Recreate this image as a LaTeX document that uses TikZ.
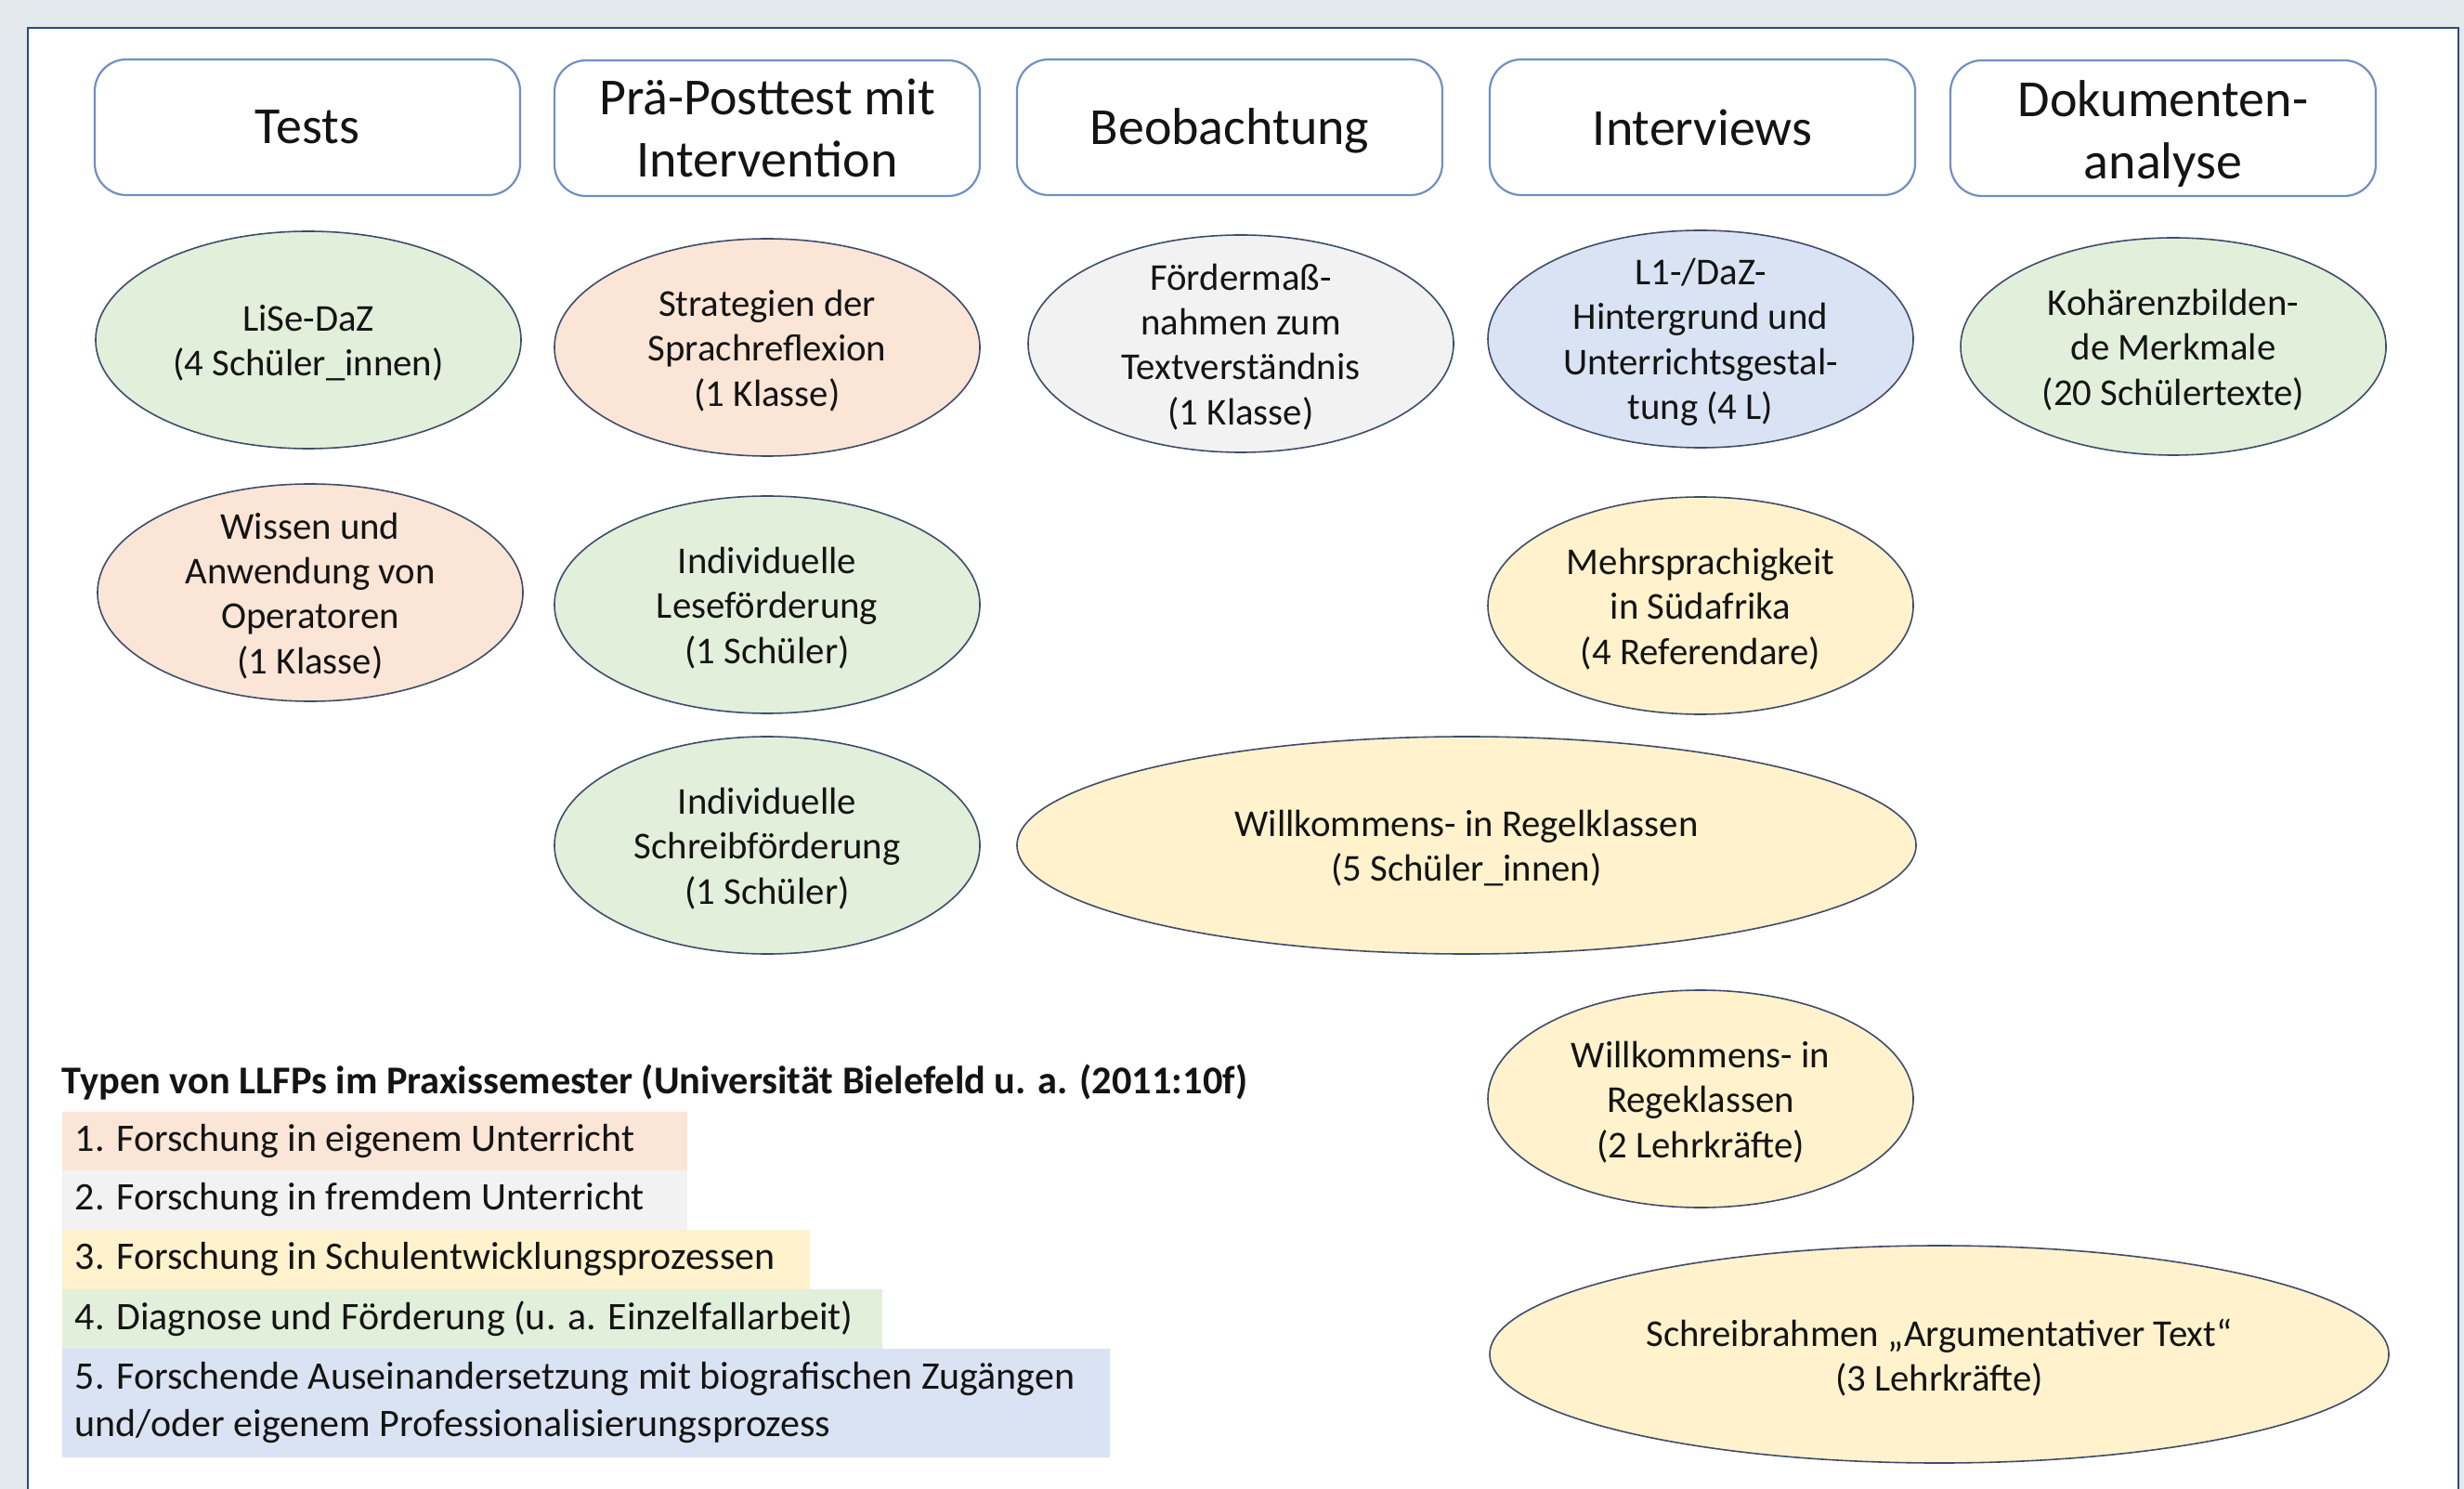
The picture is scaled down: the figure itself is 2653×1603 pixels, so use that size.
\documentclass[tikz,border=0pt]{standalone}
\usepackage{fontspec}
\setmainfont{Carlito}
\usetikzlibrary{shapes.geometric}
\definecolor{bg}{HTML}{E4E9EE}
\definecolor{panelline}{HTML}{2E4A7A}
\definecolor{boxline}{HTML}{7090C4}
\definecolor{ellline}{HTML}{3F4D6B}
\definecolor{cpeach}{HTML}{FBE5D6}
\definecolor{cgray}{HTML}{F2F2F2}
\definecolor{cyellow}{HTML}{FFF2CC}
\definecolor{cgreen}{HTML}{E2EFDA}
\definecolor{cblue}{HTML}{DAE3F3}
\definecolor{txt}{HTML}{141414}
\begin{document}
\begin{tikzpicture}[x=0.25pt,y=-0.25pt,
  hdr/.style={draw=boxline, line width=0.55pt, rounded corners=8.5pt, fill=white,
    minimum width=114.5pt, minimum height=36.5pt, inner sep=0pt},
  htxt/.style={align=center, inner sep=0pt, text=txt, font=\fontsize{14}{16.75}\selectfont},
  ell/.style={ellipse, draw=ellline, line width=0.4pt, minimum width=114.5pt,
    minimum height=58.5pt, inner sep=0pt},
  wide/.style={minimum width=242pt},
  etxt/.style={align=center, inner sep=0pt, yshift=-0.85pt, text=txt, font=\fontsize{10.2}{12.1}\selectfont},
  legrow/.style={anchor=north west, inner sep=0pt, minimum height=16pt},
  legtxt/.style={anchor=west, inner sep=0pt, align=left, text=txt, font=\fontsize{10.5}{12.7}\selectfont}
]
\useasboundingbox (0,0) rectangle (2653,1603);
\fill[bg] (0,0) rectangle (2653,1603);
\draw[panelline, line width=0.5pt, fill=white] (30,30) rectangle (2647,1650);

% header boxes
\node[hdr] (h1) at (331,137) {};
\node[hdr] (h2) at (826,138) {};
\node[hdr] (h3) at (1324,137) {};
\node[hdr] (h4) at (1833,137) {};
\node[hdr] (h5) at (2329,138) {};
\node[htxt] (ht1) at (h1) {Tests};
\node[htxt] (ht2) at (h2) {Prä-Posttest mit\\Intervention};
\node[htxt, yshift=-0.85pt] (ht3) at (h3) {Beobachtung};
\node[htxt] (ht4) at (h4) {Interviews};
\node[htxt, yshift=-1.5pt] (ht5) at (h5) {Dokumenten-\\analyse};

% ellipses row 1
\node[ell, fill=cgreen] (e1) at (332,366) {};
\node[etxt] (t1) at (e1) {LiSe-DaZ\\(4 Schüler\_innen)};
\node[ell, fill=cpeach] (e2) at (826,374) {};
\node[etxt] (t2) at (e2) {Strategien der\\Sprachreflexion\\(1 Klasse)};
\node[ell, fill=cgray] (e3) at (1336,370) {};
\node[etxt] (t3) at (e3) {Fördermaß-\\nahmen zum\\Textverständnis\\(1 Klasse)};
\node[ell, fill=cblue] (e4) at (1831,365) {};
\node[etxt] (t4) at (e4) {L1-/DaZ-\\Hintergrund und\\Unterrichtsgestal-\\tung (4 L)};
\node[ell, fill=cgreen] (e5) at (2340,373) {};
\node[etxt] (t5) at (e5) {Kohärenzbilden-\\de Merkmale\\(20 Schülertexte)};

% row 2
\node[ell, fill=cpeach] (e6) at (334,638) {};
\node[etxt] (t6) at (e6) {Wissen und\\Anwendung von\\Operatoren\\(1 Klasse)};
\node[ell, fill=cgreen] (e7) at (826,651) {};
\node[etxt] (t7) at (e7) {Individuelle\\Leseförderung\\(1 Schüler)};
\node[ell, fill=cyellow] (e8) at (1831,652) {};
\node[etxt] (t8) at (e8) {Mehrsprachigkeit\\in Südafrika\\(4 Referendare)};

% row 3
\node[ell, fill=cgreen] (e9) at (826,910) {};
\node[etxt] (t9) at (e9) {Individuelle\\Schreibförderung\\(1 Schüler)};
\node[ell, wide, fill=cyellow] (e10) at (1579,910) {};
\node[etxt] (t10) at (e10) {Willkommens- in Regelklassen\\(5 Schüler\_innen)};

% row 4
\node[ell, fill=cyellow] (e11) at (1831,1183) {};
\node[etxt] (t11) at (e11) {Willkommens- in\\Regeklassen\\(2 Lehrkräfte)};
\node[ell, wide, fill=cyellow] (e12) at (2088,1458) {};
\node[etxt] (t12) at (e12) {Schreibrahmen „Argumentativer Text“\\(3 Lehrkräfte)};

% legend
\node[anchor=base west, inner sep=0pt, text=txt, font=\fontsize{10.6}{12.7}\selectfont\bfseries] (lt) at (66,1177)
  {Typen von LLFPs im Praxissemester (Universität Bielefeld u. a. (2011:10f)};
\node[legrow, fill=cpeach, minimum width=168.25pt, minimum height=15.75pt] (l1) at (66,1196) {};
\node[legrow, fill=cgray, minimum width=168.25pt, minimum height=16pt] (l2) at (66,1259) {};
\node[legrow, fill=cyellow, minimum width=201.25pt, minimum height=16pt] (l3) at (66,1323) {};
\node[legrow, fill=cgreen, minimum width=220.75pt, minimum height=16pt] (l4) at (66,1387) {};
\node[legrow, fill=cblue, minimum width=282pt, minimum height=29.25pt] (l5) at (66,1451) {};
\node[legtxt] (lt1) at ([xshift=3.5pt]l1.west) {1. Forschung in eigenem Unterricht};
\node[legtxt] (lt2) at ([xshift=3.5pt]l2.west) {2. Forschung in fremdem Unterricht};
\node[legtxt] (lt3) at ([xshift=3.5pt]l3.west) {3. Forschung in Schulentwicklungsprozessen};
\node[legtxt] (lt4) at ([xshift=3.5pt]l4.west) {4. Diagnose und Förderung (u. a. Einzelfallarbeit)};
\node[legtxt] (lt5) at ([xshift=3.5pt]l5.west) {5. Forschende Auseinandersetzung mit biografischen Zugängen\\und/oder eigenem Professionalisierungsprozess};
\end{tikzpicture}
\end{document}
